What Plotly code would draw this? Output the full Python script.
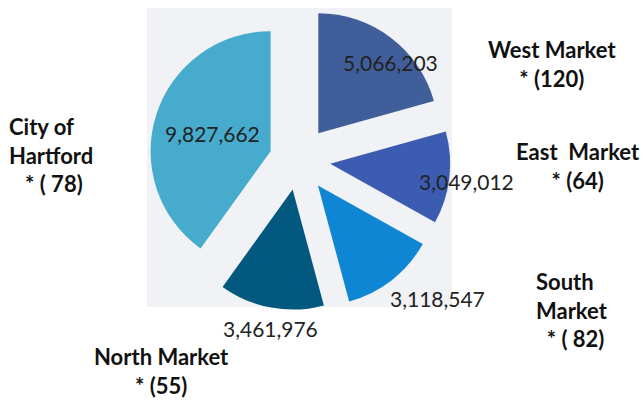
import plotly.graph_objects as go

# ---- data ----
categories = ["West Market", "East Market", "South Market", "North Market", "City of Hartford"]
values = [5066203, 3049012, 3118547, 3461976, 9827662]
counts = [120, 64, 82, 55, 78]
label_texts = ["West Market<br>* (120)", "East\u00a0 Market<br>* (64)",
               "South<br>Market<br>\u00a0\u00a0* ( 82)", "North Market<br>* (55)",
               "City of<br>Hartford<br>\u00a0\u00a0\u00a0* ( 78)"]
colors = ["#3F5E9A", "#3C5CB2", "#0E86D4", "#03587F", "#46ABCD"]
pulls = [0.28, 0.27, 0.27, 0.25, 0.24]

W, H = 644, 401

def px(x):
    return x / W

def py(y):
    return 1 - y / H

# pie geometry (pixels)
cx, cy, r = 298, 160, 120
half = r * (1 + max(pulls))

fig = go.Figure(go.Pie(
    labels=categories,
    values=values,
    sort=False,
    direction="clockwise",
    rotation=0,
    pull=pulls,
    marker=dict(colors=colors, line=dict(width=0)),
    textinfo="none",
    hoverinfo="label+value",
    showlegend=False,
    domain=dict(x=[px(cx - half), px(cx + half)], y=[py(cy + half), py(cy - half)]),
))

# value label positions (pixels)
value_pos = [(391, 62), (466, 181), (437, 298), (270, 328), (212, 133)]
# category label anchors: (x, y, xanchor, align)
cat_pos = [(552, 64, "center", "center"), (578, 166, "center", "center"),
           (534, 310, "left", "left"), (162, 371, "center", "center"),
           (7, 155, "left", "left")]

annotations = []
for v, (x, y) in zip(values, value_pos):
    annotations.append(dict(x=px(x), y=py(y), xref="paper", yref="paper",
                            text=f"{v:,}", showarrow=False,
                            xanchor="center", yanchor="middle",
                            font=dict(family="Lato", size=21, color="#222222")))
for t, (x, y, xa, al) in zip(label_texts, cat_pos):
    annotations.append(dict(x=px(x), y=py(y), xref="paper", yref="paper",
                            text=f"<b>{t}</b>", showarrow=False, align=al,
                            xanchor=xa, yanchor="middle",
                            font=dict(family="Lato", size=22, color="#111111")))

fig.update_layout(
    width=W, height=H,
    margin=dict(l=0, r=0, t=0, b=0),
    paper_bgcolor="white",
    plot_bgcolor="white",
    annotations=annotations,
    shapes=[dict(type="rect", xref="paper", yref="paper", layer="below",
                 x0=px(147), x1=px(452), y0=py(307), y1=py(8),
                 fillcolor="#F0F2F5", line=dict(width=0))],
)

fig.write_html("out.html")
